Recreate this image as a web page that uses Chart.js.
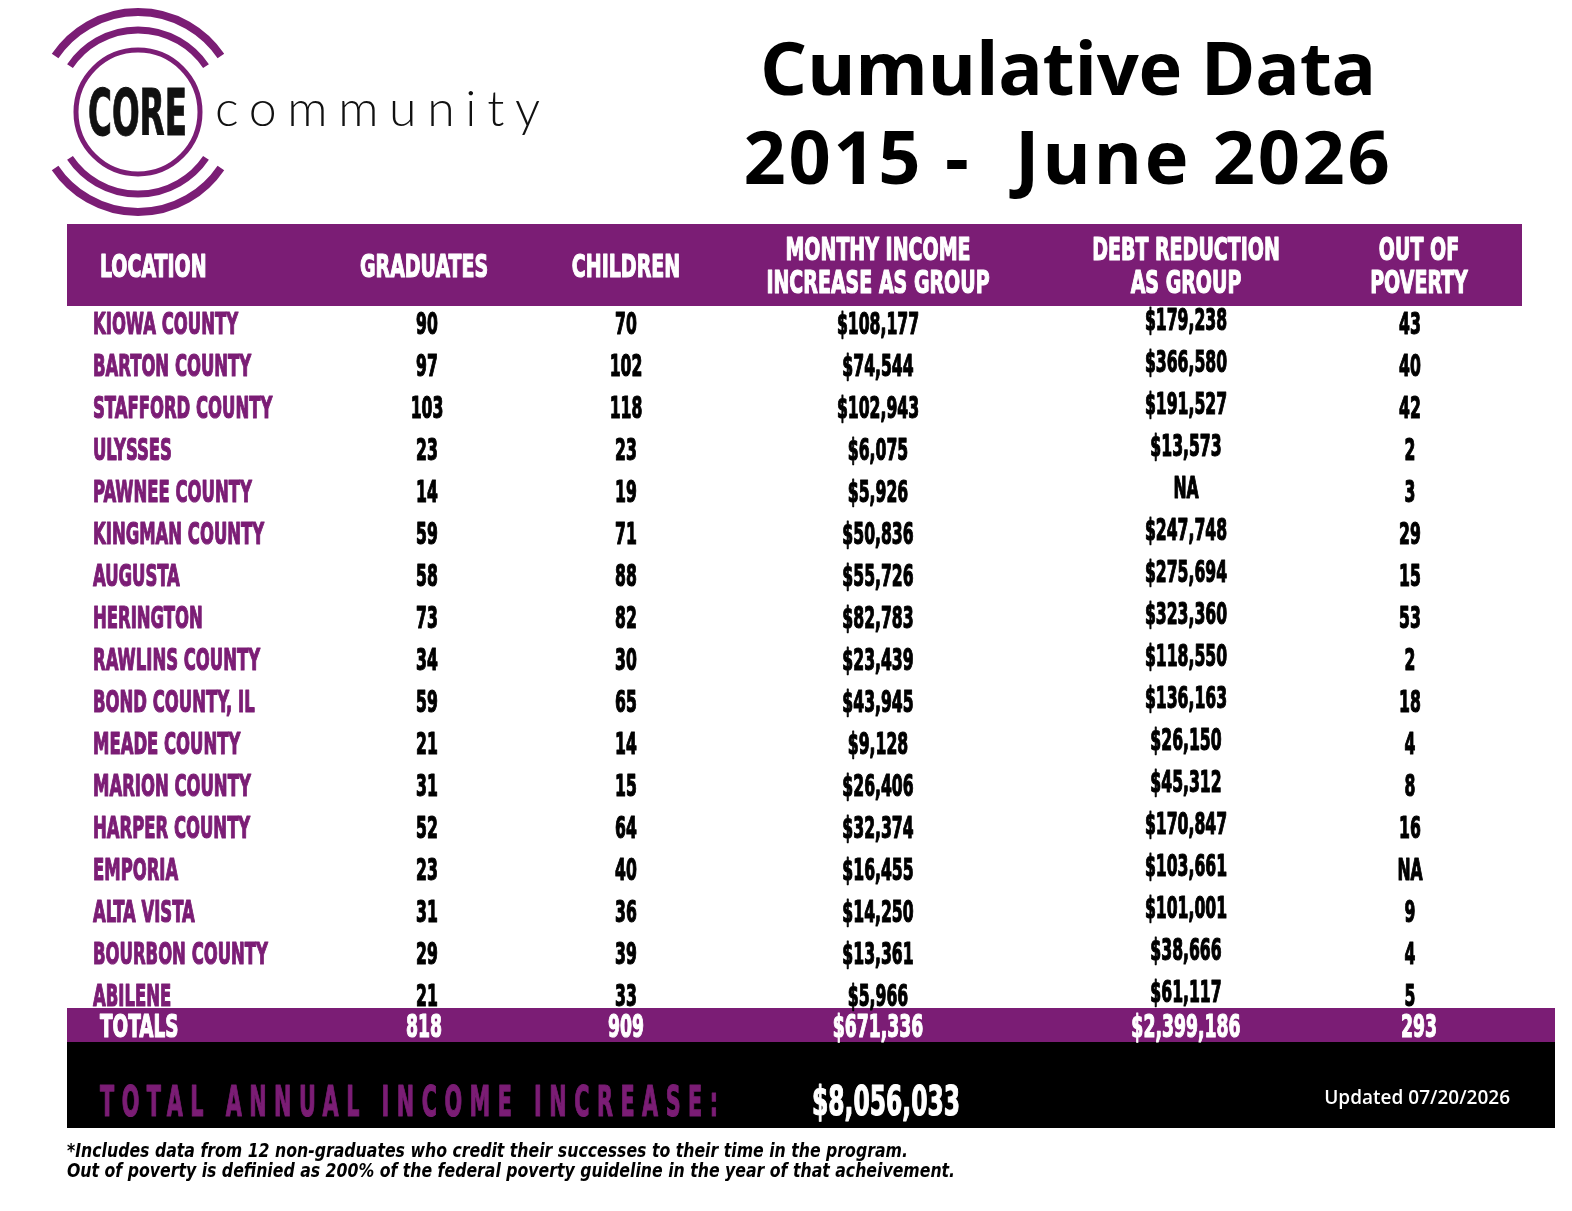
<!DOCTYPE html>
<html>
<head>
<meta charset="utf-8">
<script src="https://cdn.jsdelivr.net/npm/chart.js@4.4.1/dist/chart.umd.min.js"></script>
<style>
html, body { margin: 0; padding: 0; background: #fff; }
#pagina { position: relative; width: 1572px; height: 1211px; overflow: hidden; }
#tabela { position: absolute; left: 0; top: 0; }
#logo { position: absolute; left: 0; top: 0; }
.titulo { position: absolute; left: 700px; width: 736px; text-align: center; font-family: "Open Sans", sans-serif; font-weight: 700; font-size: 74px; line-height: 1; color: #000; white-space: nowrap; }
.nota { position: absolute; left: 67px; font-family: "Liberation Sans Narrow", "DejaVu Sans Condensed", sans-serif; font-style: italic; font-weight: bold; font-size: 19px; color: #000; white-space: nowrap; transform-origin: 0 0; transform: scaleX(0.92); }
</style>
</head>
<body>
<div id="pagina">
  <canvas id="tabela" width="1572" height="1211"></canvas>
  <svg id="logo" width="560" height="220" viewBox="0 0 560 220">
    <g fill="none" stroke="#7B1D75">
      <circle cx="138" cy="112" r="62" stroke-width="5"/>
      <path d="M 70.0 66.1 A 82 82 0 0 1 206.0 66.1" stroke-width="7"/>
      <path d="M 70.0 157.9 A 82 82 0 0 0 206.0 157.9" stroke-width="7"/>
      <path d="M 55.1 56.1 A 100 100 0 0 1 220.9 56.1" stroke-width="8"/>
      <path d="M 55.1 167.9 A 100 100 0 0 0 220.9 167.9" stroke-width="8"/>
    </g>
    <text x="88" y="135" font-family="Liberation Sans Narrow, DejaVu Sans Condensed, sans-serif" font-weight="bold" font-size="64" textLength="99" lengthAdjust="spacingAndGlyphs" fill="#111" stroke="#111" stroke-width="1">CORE</text>
    <text x="215" y="126" font-family="Lato, Open Sans, sans-serif" font-weight="300" font-size="50" textLength="325" lengthAdjust="spacing" fill="#111">community</text>
  </svg>
  <div class="titulo" style="top: 30px; letter-spacing: -0.3px;">Cumulative Data</div>
  <div class="titulo" style="top: 119px; letter-spacing: 2.6px;">2015 -&nbsp; June 2026</div>
  <div class="nota" style="top: 1139px;">*Includes data from 12 non-graduates who credit their successes to their time in the program.</div>
  <div class="nota" style="top: 1159px;">Out of poverty is definied as 200% of the federal poverty guideline in the year of that acheivement.</div>
</div>

<script>
// dados
const localidades = ['KIOWA COUNTY', 'BARTON COUNTY', 'STAFFORD COUNTY', 'ULYSSES', 'PAWNEE COUNTY',
    'KINGMAN COUNTY', 'AUGUSTA', 'HERINGTON', 'RAWLINS COUNTY', 'BOND COUNTY, IL', 'MEADE COUNTY',
    'MARION COUNTY', 'HARPER COUNTY', 'EMPORIA', 'ALTA VISTA', 'BOURBON COUNTY', 'ABILENE'];
const graduados = [90, 97, 103, 23, 14, 59, 58, 73, 34, 59, 21, 31, 52, 23, 31, 29, 21];
const criancas = [70, 102, 118, 23, 19, 71, 88, 82, 30, 65, 14, 15, 64, 40, 36, 39, 33];
const rendaMensal = ['$108,177', '$74,544', '$102,943', '$6,075', '$5,926', '$50,836', '$55,726', '$82,783',
    '$23,439', '$43,945', '$9,128', '$26,406', '$32,374', '$16,455', '$14,250', '$13,361', '$5,966'];
const reducaoDivida = ['$179,238', '$366,580', '$191,527', '$13,573', 'NA', '$247,748', '$275,694', '$323,360',
    '$118,550', '$136,163', '$26,150', '$45,312', '$170,847', '$103,661', '$101,001', '$38,666', '$61,117'];
const foraPobreza = ['43', '40', '42', '2', '3', '29', '15', '53', '2', '18', '4', '8', '16', 'NA', '9', '4', '5'];
const totais = ['818', '909', '$671,336', '$2,399,186', '293'];
const cabecalhos = [['LOCATION'], ['GRADUATES'], ['CHILDREN'], ['MONTHY INCOME', 'INCREASE AS GROUP'],
    ['DEBT REDUCTION', 'AS GROUP'], ['OUT OF', 'POVERTY']];
const rendaAnual = '$8,056,033';
const atualizado = 'Updated 07/20/2026';

const ROXO = '#7B1D75';
const FONTE = '"Liberation Sans Narrow", "DejaVu Sans Condensed", sans-serif';

// posição horizontal de cada coluna (layout)
const colunaX = [93, 427, 626, 878, 1186, 1410];
const cabecalhoX = [100, 424, 626, 878, 1186, 1419];
const totalX = [424, 626, 878, 1186, 1419];

function escrever(ctx, str, x, y, tam, cor, alinhar, sx, espaco) {
    ctx.save();
    ctx.font = 'bold ' + tam + 'px ' + FONTE;
    ctx.fillStyle = cor;
    ctx.strokeStyle = cor;
    ctx.lineWidth = 1.2;
    ctx.lineJoin = 'round';
    ctx.textBaseline = 'middle';
    ctx.textAlign = alinhar;
    if (espaco) ctx.letterSpacing = espaco + 'px';
    ctx.translate(x, y + 3);
    ctx.scale(sx, 1);
    ctx.fillText(str, 0, 0);
    ctx.strokeText(str, 0, 0);
    ctx.restore();
}

const colunas = [
    localidades,
    graduados.map(String),
    criancas.map(String),
    rendaMensal,
    reducaoDivida,
    foraPobreza
];

const datasets = colunas.map((valores, k) => ({
    label: cabecalhos[k].join(' '),
    data: localidades.map((loc, i) => ({ x: colunaX[k], y: loc })),
    textos: valores,
    pointRadius: 0,
    pointHoverRadius: 0
}));

const pluginTabela = {
    id: 'tabela',
    beforeDatasetsDraw(chart) {
        const ctx = chart.ctx;
        const y = chart.scales.y;
        const primeira = y.getPixelForValue(0);
        const ultima = y.getPixelForValue(localidades.length - 1);
        ctx.save();
        ctx.fillStyle = ROXO;
        ctx.fillRect(67, primeira - 99, 1455, 82);
        ctx.fillRect(67, ultima + 13, 1488, 34);
        ctx.fillStyle = '#000';
        ctx.fillRect(67, ultima + 47, 1488, 86);
        ctx.restore();
    },
    afterDatasetsDraw(chart) {
        const ctx = chart.ctx;
        const y = chart.scales.y;
        const primeira = y.getPixelForValue(0);
        const ultima = y.getPixelForValue(localidades.length - 1);

        // cabeçalho
        cabecalhos.forEach((linhas, k) => {
            const alinhar = k === 0 ? 'left' : 'center';
            if (linhas.length === 1) {
                escrever(ctx, linhas[0], cabecalhoX[k], primeira - 57, 32, '#fff', alinhar, 0.66);
            } else {
                escrever(ctx, linhas[0], cabecalhoX[k], primeira - 74, 32, '#fff', alinhar, 0.66);
                escrever(ctx, linhas[1], cabecalhoX[k], primeira - 41, 32, '#fff', alinhar, 0.66);
            }
        });

        // células
        chart.data.datasets.forEach((ds, k) => {
            const meta = chart.getDatasetMeta(k);
            meta.data.forEach((pt, i) => {
                const cor = k === 0 ? ROXO : '#000';
                const alinhar = k === 0 ? 'left' : 'center';
                const dy = k === 4 ? -4 : 0;
                escrever(ctx, ds.textos[i], pt.x, pt.y + dy, 30, cor, alinhar, k === 0 ? 0.61 : 0.58);
            });
        });

        // totais
        const yTot = ultima + 31;
        escrever(ctx, 'TOTALS', 100, yTot, 32, '#fff', 'left', 0.64);
        totais.forEach((t, k) => {
            escrever(ctx, t, totalX[k], yTot, 32, '#fff', 'center', 0.6);
        });

        // faixa preta
        const yRod = ultima + 107;
        escrever(ctx, 'TOTAL ANNUAL INCOME INCREASE:', 100, yRod, 42, ROXO, 'left', 0.55, 13.6);
        escrever(ctx, rendaAnual, 886, yRod, 40, '#fff', 'center', 0.65);
        ctx.save();
        ctx.font = '600 19px "Open Sans", sans-serif';
        ctx.fillStyle = '#fff';
        ctx.textBaseline = 'middle';
        ctx.textAlign = 'right';
        ctx.fillText(atualizado, 1510, ultima + 104);
        ctx.restore();
    }
};

new Chart(document.getElementById('tabela'), {
    type: 'scatter',
    data: { labels: localidades, datasets: datasets },
    options: {
        responsive: false,
        animation: false,
        devicePixelRatio: 1,
        events: [],
        layout: { padding: { top: 323, bottom: 216, left: 0, right: 0 } },
        plugins: { legend: { display: false }, tooltip: { enabled: false } },
        scales: {
            x: { type: 'linear', min: 0, max: 1572, display: false },
            y: { type: 'category', labels: localidades, offset: false, display: false }
        }
    },
    plugins: [pluginTabela]
});
</script>
</body>
</html>
